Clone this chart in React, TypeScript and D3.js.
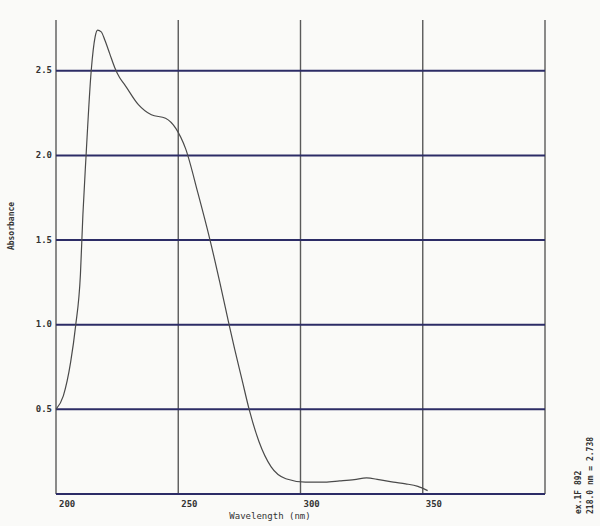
import * as d3 from 'd3';

// UV absorbance scan
const wavelengths = [
  200, 203, 206, 208, 210, 211, 212.3, 214.4, 216, 217, 218.5, 220, 222, 224, 226, 228, 233.7, 239,
  244.8, 249, 253, 258, 263, 267, 270.5, 273, 276, 279, 283, 288, 294, 302, 310, 316, 322, 327, 332,
  338, 343, 348, 352,
];
const absorbance = [
  0.5, 0.58, 0.78, 0.99, 1.3, 1.65, 2.0, 2.5, 2.7, 2.74, 2.73, 2.68, 2.6, 2.52, 2.46, 2.42, 2.3, 2.24,
  2.22, 2.16, 2.04, 1.78, 1.5, 1.25, 1.02, 0.86, 0.68, 0.5, 0.31, 0.16, 0.09, 0.07, 0.07, 0.077,
  0.085, 0.095, 0.085, 0.07, 0.06, 0.045, 0.02,
];
const yTicks = [0.5, 1.0, 1.5, 2.0, 2.5];
const xTicks = [200, 250, 300, 350];
const xGrid = [200, 250, 300, 350, 400];
const sideNotes = ['ex.1F 892', '218.0 nm = 2.738'];

const width = 600;
const height = 526;
const gridBlue = '#2c2c66';
const gridGray = '#5a5a5a';
const font = '"DejaVu Sans Mono", monospace';

export default function App() {
  const x = d3.scaleLinear().domain([200, 400]).range([56, 545]);
  const y = d3.scaleLinear().domain([0, 2.8]).range([494, 20]);

  const points = wavelengths.map((w, i) => [w, absorbance[i]] as [number, number]);
  const line = d3
    .line<[number, number]>()
    .x((d) => x(d[0]))
    .y((d) => y(d[1]))
    .curve(d3.curveMonotoneX);

  return (
    <svg
      width={width}
      height={height}
      style={{ position: 'absolute', left: 0, top: 0, background: '#fafaf8' }}
    >
      {/* vertical grid */}
      {xGrid.map((t) => (
        <line key={t} x1={x(t)} x2={x(t)} y1={y(2.8)} y2={y(0)} stroke={gridGray} strokeWidth={1.4} />
      ))}

      {/* horizontal grid + baseline */}
      {[0, ...yTicks].map((t) => (
        <line
          key={t}
          x1={x(200)}
          x2={x(400)}
          y1={y(t)}
          y2={y(t)}
          stroke={gridBlue}
          strokeWidth={t === 0 ? 2.2 : 2}
        />
      ))}

      {yTicks.map((t) => (
        <text
          key={t}
          x={x(200) - 4}
          y={y(t)}
          textAnchor="end"
          dominantBaseline="middle"
          fontFamily={font}
          fontWeight="bold"
          fontSize={9}
          fill="#333"
        >
          {t.toFixed(1)}
        </text>
      ))}

      {xTicks.map((t) => (
        <text
          key={t}
          x={x(t) + 3}
          y={y(0) + 13}
          fontFamily={font}
          fontWeight="bold"
          fontSize={9}
          fill="#333"
        >
          {t}
        </text>
      ))}

      <text
        x={270}
        y={519}
        textAnchor="middle"
        fontFamily={font}
        fontSize={9}
        fill="#333"
      >
        Wavelength (nm)
      </text>

      <text
        transform="translate(14,226) rotate(-90)"
        textAnchor="middle"
        fontFamily={font}
        fontWeight="bold"
        fontSize={8}
        fill="#333"
      >
        Absorbance
      </text>

      {sideNotes.map((s, i) => (
        <text
          key={s}
          transform={`translate(${581 + i * 12},514) rotate(-90)`}
          fontFamily={font}
          fontWeight="bold"
          fontSize={8}
          fill="#333"
        >
          {s}
        </text>
      ))}

      <path d={line(points) ?? ''} fill="none" stroke="#4a4a4a" strokeWidth={1.2} />
    </svg>
  );
}
